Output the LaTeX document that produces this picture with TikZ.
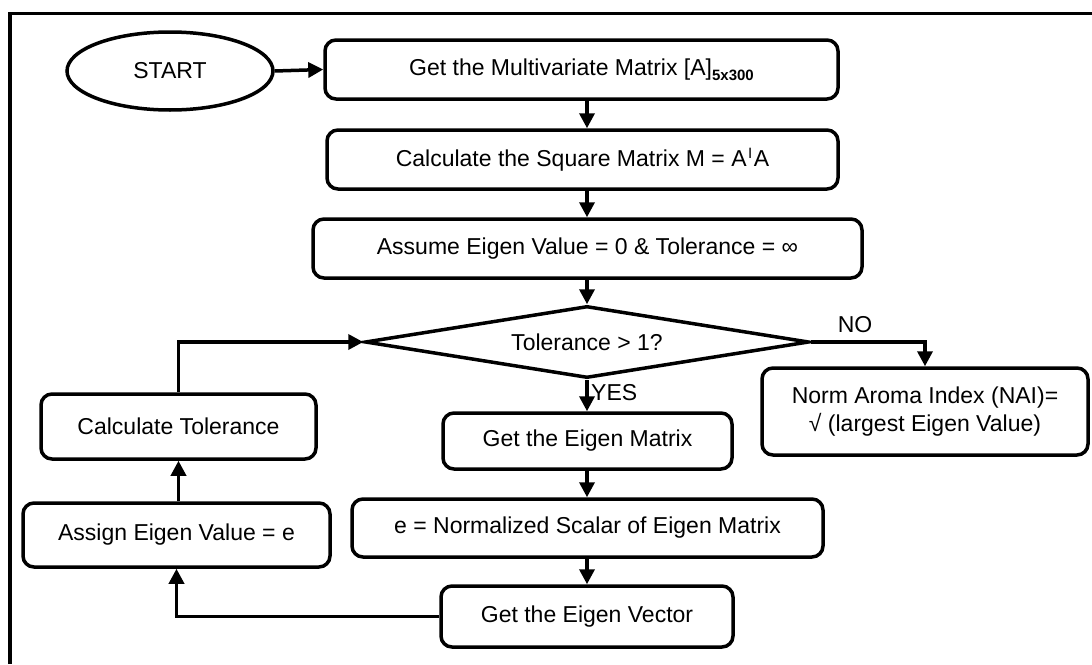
\documentclass[tikz,border=0pt]{standalone}
\usepackage{fontspec}
\setmainfont{Liberation Sans}
\usetikzlibrary{shapes.geometric,arrows.meta,calc}
\tikzset{
  txt/.style={font=\fontsize{23}{27.5}\selectfont},
  box/.style={draw, line width=3.5pt, rounded corners=11pt, align=center, inner sep=2pt, txt},
  arr/.style={line width=3.5pt, -{Triangle[length=15pt,width=15pt]}},
  lbl/.style={txt, inner sep=1pt}
}
\begin{document}
\begin{tikzpicture}[x=1pt,y=-1pt]
\useasboundingbox (0,0) rectangle (1092,664);
\fill[white] (0,0) rectangle (1092,664);
% outer frame (only top and left sides visible)
\draw[line width=3.5pt] (10,664) -- (10,13.5) -- (1092,13.5);

\node[box, ellipse, rounded corners=0pt, minimum width=206pt, minimum height=78pt] (start) at (170,71) {START};
\node[box, minimum width=513pt, minimum height=59pt] (b1) at (581.5,69.5) {Get the Multivariate Matrix [A]\raisebox{-5pt}{\fontsize{15}{17}\selectfont\bfseries 5x300}};
\node[box, minimum width=511pt, minimum height=59pt] (b2) at (582.5,159.5) {Calculate the Square Matrix M = A\kern1.5pt\raisebox{8pt}{\fontsize{15}{17}\selectfont I}\kern1.5pt A};
\node[box, minimum width=549pt, minimum height=59pt] (b3) at (587.5,248.5) {Assume Eigen Value = 0 \& Tolerance = ∞};
\node[draw, line width=3.5pt, diamond, aspect=6.17, inner sep=0pt, minimum width=444pt, minimum height=72pt, txt] (d) at (587,342) {Tolerance > 1?};
\node[box, minimum width=326pt, minimum height=87pt] (nai) at (925,411.5) {Norm Aroma Index (NAI)=\\√ (largest Eigen Value)};
\node[box, minimum width=289pt, minimum height=56pt] (gem) at (587.5,441) {Get the Eigen Matrix};
\node[box, minimum width=471pt, minimum height=58pt] (norm) at (587.5,528) {e = Normalized Scalar of Eigen Matrix};
\node[box, minimum width=292pt, minimum height=61pt] (gev) at (587,616.5) {Get the Eigen Vector};
\node[box, minimum width=307pt, minimum height=64pt] (asg) at (176.5,535) {Assign Eigen Value = e};
\node[box, minimum width=275pt, minimum height=65pt] (ctol) at (178.5,426.5) {Calculate Tolerance};

\draw[arr] (start.east) -- (b1.west);
\draw[arr] (b1.south -| d.north) -- (b2.north -| d.north);
\draw[arr] (b2.south -| d.north) -- (b3.north -| d.north);
\draw[arr] (b3.south -| d.north) -- (d.north);
\draw[arr] (d.south) -- (gem.north -| d.south);
\node[lbl, anchor=west] (yes) at (590,393) {YES};
\draw[arr] (d.east) -- (nai.north |- d.east) -- (nai.north);
\node[lbl] (no) at (855,325) {NO};
\draw[arr] (gem.south -| gev.north) -- (norm.north -| gev.north);
\draw[arr] (norm.south -| gev.north) -- (gev.north);
\draw[arr] (gev.west) -- (asg.south |- gev.west) -- (asg.south);
\draw[arr] (asg.north -| ctol.south) -- (ctol.south);
\draw[arr] (ctol.north) -- (ctol.north |- d.west) -- (d.west);
\end{tikzpicture}
\end{document}
